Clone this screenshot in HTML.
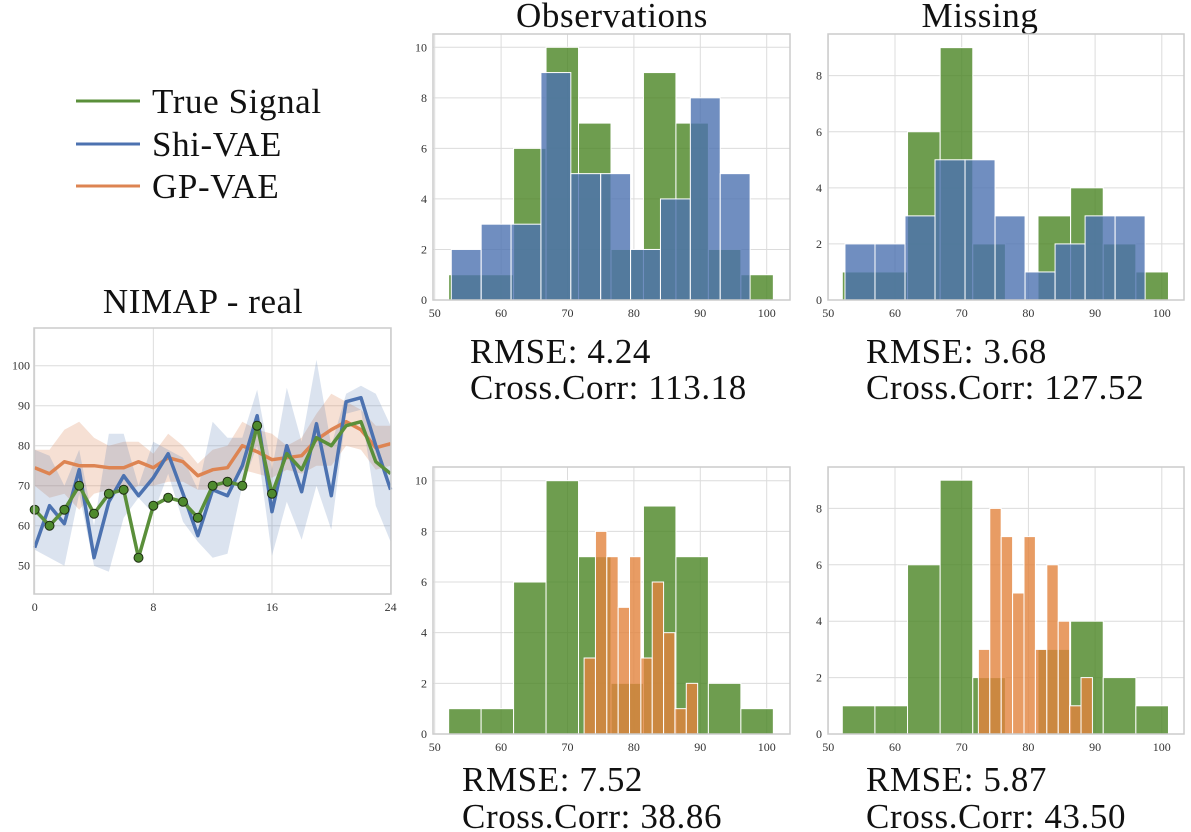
<!DOCTYPE html>
<html><head><meta charset="utf-8">
<style>
body{margin:0;background:#fff;}
svg{display:block;font-family:"Liberation Serif",serif;}
.tick{font-size:12px;fill:#333;}
.big{font-size:35px;fill:#111;letter-spacing:0.6px;}
</style></head>
<body>
<svg id="fig" width="1191" height="832" xmlns="http://www.w3.org/2000/svg">
<g>
<line x1="76" y1="101" x2="140" y2="101" stroke="#5a8f3a" stroke-width="3"/>
<text x="152" y="113" class="big">True Signal</text>
<line x1="76" y1="144" x2="140" y2="144" stroke="#4c72b0" stroke-width="3"/>
<text x="152" y="156" class="big">Shi-VAE</text>
<line x1="76" y1="186" x2="140" y2="186" stroke="#dd8452" stroke-width="3"/>
<text x="152" y="198" class="big">GP-VAE</text>
</g>
<text x="203" y="313" text-anchor="middle" class="big">NIMAP - real</text>
<text x="612" y="27" text-anchor="middle" class="big">Observations</text>
<text x="980" y="27" text-anchor="middle" class="big">Missing</text>
<text x="470" y="363" class="big">RMSE: 4.24</text>
<text x="470" y="399" class="big">Cross.Corr: 113.18</text>
<text x="866" y="363" class="big">RMSE: 3.68</text>
<text x="866" y="399" class="big">Cross.Corr: 127.52</text>
<text x="462" y="791" class="big">RMSE: 7.52</text>
<text x="462" y="828" class="big">Cross.Corr: 38.86</text>
<text x="866" y="791" class="big">RMSE: 5.87</text>
<text x="866" y="828" class="big">Cross.Corr: 43.50</text>
</svg>
<script>
const NS="http://www.w3.org/2000/svg";
const svg=document.getElementById('fig');
function mk(tag,attrs,parent){const e=document.createElementNS(NS,tag);for(const k in attrs)e.setAttribute(k,attrs[k]);(parent||svg).appendChild(e);return e;}

// ---- line chart data ----
const steps=[0,1,2,3,4,5,6,7,8,9,10,11,12,13,14,15,16,17,18,19,20,21,22,23,24];
const trueSignal=[64,60,64,70,63,68,69,52,65,67,66,62,70,71,70,85,68,78,74,82,80,85,86,76,73];
const observedIdx=[0,1,2,3,4,5,6,7,8,9,10,11,12,13,14,15,16];
const shiMean=[54.5,65,60.5,74,52,66,72.5,67.5,72,78,68,57.5,69,67.5,75,87.5,63.5,80,68.5,85.5,67.5,91,92,80,69];
const shiUpper=[79,77.5,70,79,60,83,83,70,81,79,77,69,86,82,82,94,74,94.5,81,101.5,80,93,95,93,85];
const shiLower=[54,52,50,68,50,48.5,62,67,63,73,61,56,52,53,70,80,52.5,66,56.5,70,59,88,89,65,56];
const gpMean=[74.5,73,76,75,75,74.5,74.5,76,74.5,77,76,72.5,74,74.5,80,78.5,76.5,77,77.5,81.5,84,86,84,79.5,80.5];
const gpUpper=[79,79,84,86,82,80,81,81,78,83,80,75.5,79,80,86,84,83,80,82,88,93,91,89,85,85];
const gpLower=[70,67,68,64,68,69,68,70,70,71,71,69,69,69,74,73,72,74,73,75,75,80,79,74,75];
const lineXTicks=[0,8,16,24];
const lineYTicks=[50,60,70,80,90,100];

(function(){
const L=34,R=391,T=328,B=594;
const x=v=>34.7+v*14.83, y=v=>365.7+(100-v)*4;
const g=mk('g',{});


lineYTicks.forEach(t=>{mk('line',{x1:L,x2:R,y1:y(t),y2:y(t),stroke:'#dcdcdc','stroke-width':1},g);
 const tx=mk('text',{x:L-4,y:y(t)+4,'text-anchor':'end',class:'tick'},g);tx.textContent=t;
 
 });
lineXTicks.forEach(t=>{mk('line',{x1:x(t),x2:x(t),y1:T,y2:B,stroke:'#dcdcdc','stroke-width':1},g);
 const tx=mk('text',{x:x(t),y:B+17,'text-anchor':'middle',class:'tick'},g);tx.textContent=t;
 
 });
function band(up,lo,col,name,op){let d='M'+steps.map(i=>x(i)+','+y(up[i])).join('L');
 d+='L'+steps.slice().reverse().map(i=>x(i)+','+y(lo[i])).join('L')+'Z';
 const p=mk('path',{d:d,fill:col,'fill-opacity':op,stroke:'none'},g);
 
 }
band(gpUpper,gpLower,'#dd8452','gp-vae-band',0.25);
band(shiUpper,shiLower,'#4c72b0','shi-vae-band',0.2);
function line(arr,col,name){const p=mk('polyline',{points:steps.map(i=>x(i)+','+y(arr[i])).join(' '),fill:'none',stroke:col,'stroke-width':3.5,'stroke-linejoin':'round'},g);
 
 }
line(gpMean,'#dd8452','gp-vae-line');
line(shiMean,'#4c72b0','shi-vae-line');
line(trueSignal,'#5a8f3a','true-signal-line');
observedIdx.forEach(i=>{const c=mk('circle',{cx:x(i),cy:y(trueSignal[i]),r:4.5,fill:'#4e8a2e',stroke:'#1d2d12','stroke-width':1},g);
 
 });
mk('rect',{x:L,y:T,width:R-L,height:B-T,fill:'none',stroke:'#cccccc','stroke-width':1.5},g);
})();

// ---- histogram data ----
const greenEdgeStart=52.1, greenBinW=4.89;
const greenObs=[1,1,6,10,7,2,9,7,2,1];
const greenMiss=[1,1,6,9,2,0,3,4,2,1];
const blueEdgeStart=52.5, blueBinW=4.5;
const blueObs=[2,3,3,9,5,5,2,4,8,5];
const blueMiss=[2,2,3,5,5,3,1,2,3,3];
const orangeEdgeStart=72.5, orangeBinW=1.71;
const orangeObs=[3,8,7,5,7,3,6,4,1,2];
const orangeMiss=[3,8,7,5,7,3,6,4,1,2];
const histXTicks=[50,60,70,80,90,100];
const histYTicksA=[0,2,4,6,8,10];
const histYTicksB=[0,2,4,6,8];

function hist(name,box,yTicks,series){
 const [L,R,T,B,x50,px,ppu]=box;
 const x=v=>x50+(v-50)*px, y=v=>B-v*ppu;
 const g=mk('g',{});
 
 
 yTicks.forEach(t=>{mk('line',{x1:L,x2:R,y1:y(t),y2:y(t),stroke:'#dcdcdc','stroke-width':1},g);
  const tx=mk('text',{x:L-6,y:y(t)+4,'text-anchor':'end',class:'tick'},g);tx.textContent=t;
  
  });
 histXTicks.forEach(t=>{mk('line',{x1:x(t),x2:x(t),y1:T,y2:B,stroke:'#dcdcdc','stroke-width':1},g);
  const tx=mk('text',{x:x(t),y:B+17,'text-anchor':'middle',class:'tick'},g);tx.textContent=t;
  
  });
 series.forEach(s=>{s.counts.forEach((c,i)=>{if(!c)return;
  const x0=x(s.start+i*s.w),x1=x(s.start+(i+1)*s.w);
  const r=mk('rect',{x:x0,y:y(c),width:x1-x0,height:y(0)-y(c),fill:s.col,'fill-opacity':0.8,stroke:'#fff','stroke-width':1},g);
  
  });});
 mk('rect',{x:L,y:T,width:R-L,height:B-T,fill:'none',stroke:'#cccccc','stroke-width':1.5},g);
}
const G='#4a8523',Bl='#4c72b0',O='#e2833d';
hist('hist-observations-shi',[433,790,34,300,434.7,6.64,25.27],histYTicksA,[
 {counts:greenObs,start:greenEdgeStart,w:greenBinW,col:G,name:'true-signal'},
 {counts:blueObs,start:blueEdgeStart,w:blueBinW,col:Bl,name:'shi-vae'}]);
hist('hist-missing-shi',[828,1184,34,300,828.3,6.67,28.04],histYTicksB,[
 {counts:greenMiss,start:greenEdgeStart,w:greenBinW,col:G,name:'true-signal'},
 {counts:blueMiss,start:blueEdgeStart,w:blueBinW,col:Bl,name:'shi-vae'}]);
hist('hist-observations-gp',[433,790,467,734,434.7,6.64,25.33],histYTicksA,[
 {counts:greenObs,start:greenEdgeStart,w:greenBinW,col:G,name:'true-signal'},
 {counts:orangeObs,start:orangeEdgeStart,w:orangeBinW,col:O,name:'gp-vae'}]);
hist('hist-missing-gp',[828,1184,467,734,828.3,6.67,28.2],histYTicksB,[
 {counts:greenMiss,start:greenEdgeStart,w:greenBinW,col:G,name:'true-signal'},
 {counts:orangeMiss,start:orangeEdgeStart,w:orangeBinW,col:O,name:'gp-vae'}]);
</script>
</body></html>
